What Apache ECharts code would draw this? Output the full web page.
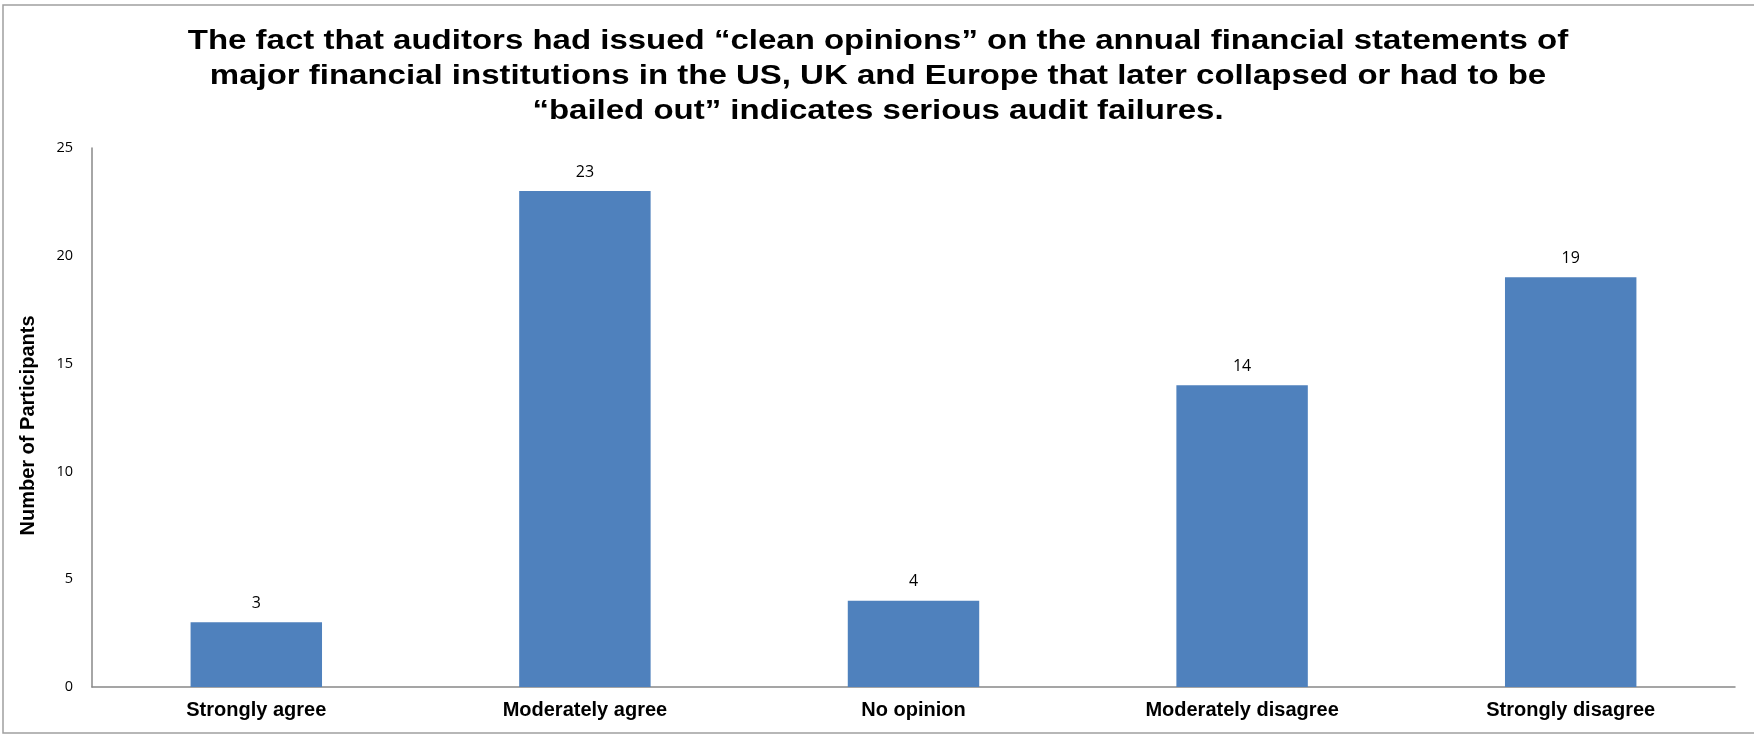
<!DOCTYPE html>
<html>
<head>
<meta charset="utf-8">
<script src="https://cdn.jsdelivr.net/npm/echarts@6/dist/echarts.min.js"></script>
<style>
  html, body { margin: 0; padding: 0; background: #fff; }
  #chart { width: 1754px; height: 736px; }
</style>
</head>
<body>
<div id="chart"></div>
<script>
// categories and values
const categories = ["Strongly agree", "Moderately agree", "No opinion", "Moderately disagree", "Strongly disagree"];
const participants = [3, 23, 4, 14, 19];
const yTicks = [0, 5, 10, 15, 20, 25];

const titleLines = [
  "The fact that auditors had issued \u201cclean opinions\u201d on the annual financial statements of",
  "major financial institutions in the US, UK and Europe that later collapsed or had to be",
  "\u201cbailed out\u201d indicates serious audit failures.",
];

const chart = echarts.init(document.getElementById("chart"));
chart.setOption({
  backgroundColor: "#fff",
  animation: false,
  graphic: [
    {
      type: "rect",
      shape: { x: 3, y: 5, width: 1800, height: 728 },
      style: { fill: "none", stroke: "#a0a0a0", lineWidth: 1.5 },
      silent: true,
    },
    {
      // title drawn as graphic text so it can be stretched like the original
      type: "text",
      x: 878,
      y: 24,
      scaleX: 1.222,
      silent: true,
      style: {
        text: titleLines.join("\n"),
        fontFamily: "Liberation Sans",
        fontWeight: "bold",
        fontSize: 27,
        lineHeight: 35,
        fill: "#000",
        align: "center",
        verticalAlign: "top",
      },
    },
  ],
  grid: {
    left: 92,
    right: 19,
    top: 148,
    bottom: 49,
    containLabel: false,
  },
  xAxis: {
    type: "category",
    data: categories,
    axisLine: { lineStyle: { color: "#888", width: 1.5 } },
    axisTick: { show: false },
    axisLabel: {
      fontFamily: "Liberation Sans",
      fontWeight: "bold",
      fontSize: 20,
      color: "#000",
      margin: 13,
    },
  },
  yAxis: {
    type: "value",
    min: yTicks[0],
    max: yTicks[yTicks.length - 1],
    interval: 5,
    name: "Number of Participants",
    nameLocation: "middle",
    nameGap: 54,
    nameTextStyle: {
      fontFamily: "Liberation Sans",
      fontWeight: "bold",
      fontSize: 20,
      color: "#000",
      padding: [0, 16, 0, 0],
    },
    axisLine: { show: true, lineStyle: { color: "#888", width: 1.5 } },
    axisTick: { show: false },
    splitLine: { show: false },
    axisLabel: {
      fontFamily: "Open Sans",
      fontSize: 14.5,
      color: "#000",
      margin: 19,
    },
  },
  series: [
    {
      type: "bar",
      data: participants,
      barWidth: "40%",
      itemStyle: { color: "#4f81bd" },
      label: {
        show: true,
        position: "top",
        distance: 11,
        fontFamily: "Open Sans",
        fontSize: 16,
        color: "#000",
      },
    },
  ],
});
</script>
</body>
</html>
